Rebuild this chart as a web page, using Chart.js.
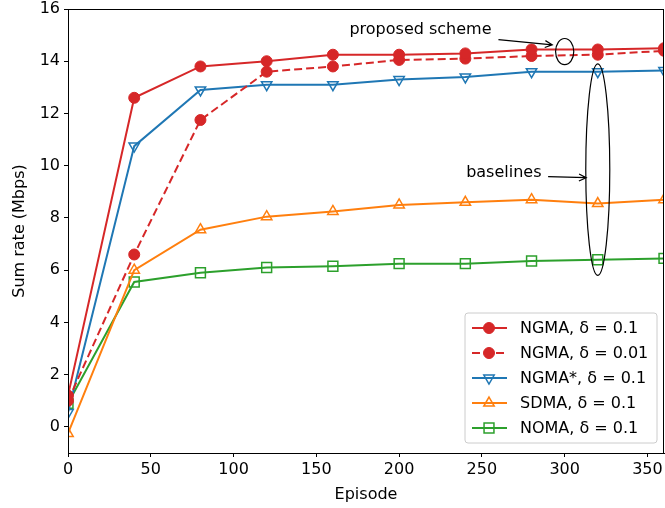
<!DOCTYPE html>
<html>
<head>
<meta charset="utf-8">
<script src="https://cdn.jsdelivr.net/npm/chart.js@4/dist/chart.umd.min.js"></script>
<style>
  html,body{margin:0;padding:0;background:#fff;}
  #wrap{width:665px;height:508px;}
</style>
</head>
<body>
<div id="wrap"><canvas id="c" width="665" height="508"></canvas></div>
<script>
// ---- data ----
const episodes   = [0, 40, 80, 120, 160, 200, 240, 280, 320, 360];
const ngma01     = [1.2, 12.6, 13.8, 14.0, 14.25, 14.25, 14.3, 14.45, 14.45, 14.5];
const ngma001    = [1.0, 6.6, 11.75, 13.6, 13.8, 14.05, 14.1, 14.2, 14.25, 14.4];
const ngmaStar   = [0.55, 10.75, 12.9, 13.1, 13.1, 13.3, 13.4, 13.6, 13.6, 13.65];
const sdma       = [-0.25, 6.0, 7.55, 8.05, 8.25, 8.5, 8.6, 8.7, 8.55, 8.7];
const noma       = [0.9, 5.55, 5.9, 6.1, 6.15, 6.25, 6.25, 6.35, 6.4, 6.45];
const seriesNames = ['NGMA, δ = 0.1', 'NGMA, δ = 0.01', 'NGMA*, δ = 0.1', 'SDMA, δ = 0.1', 'NOMA, δ = 0.1'];
const xTicks = [0, 50, 100, 150, 200, 250, 300, 350];
const yTicks = [0, 2, 4, 6, 8, 10, 12, 14, 16];

const FONT = 'DejaVu Sans';
const FS = 16;
const RED = '#d62728', BLUE = '#1f77b4', ORANGE = '#ff7f0e', GREEN = '#2ca02c';

function pts(ys){ return episodes.map((x,i)=>({x, y: ys[i]})); }

function mkSet(label, ys, color, style, opts){
  return Object.assign({
    label,
    data: pts(ys),
    borderColor: color,
    backgroundColor: color,
    borderWidth: 2,
    pointStyle: style,
    pointRadius: 6,
    pointBorderWidth: 1.5,
    pointBorderColor: color,
    pointBackgroundColor: 'rgba(0,0,0,0)',
    tension: 0,
    clip: 0
  }, opts || {});
}

const sets = [
  mkSet(seriesNames[0], ngma01, RED, 'circle', {pointBackgroundColor: RED, pointRadius: 5.5, pointBorderWidth: 1}),
  mkSet(seriesNames[1], ngma001, RED, 'circle', {pointBackgroundColor: RED, pointRadius: 5.5, pointBorderWidth: 1, borderDash: [8,4]}),
  mkSet(seriesNames[2], ngmaStar, BLUE, 'triangle', {pointRotation: 180}),
  mkSet(seriesNames[3], sdma, ORANGE, 'triangle'),
  mkSet(seriesNames[4], noma, GREEN, 'rect', {pointRadius: 7})
];
sets.forEach((s,i)=>{ s.order = i; });

// frame + annotations + legend
const decor = {
  id: 'decor',
  afterDatasetsDraw(chart){
    const {ctx, chartArea: a, scales: {x, y}} = chart;
    ctx.save();
    ctx.strokeStyle = '#000';
    ctx.lineWidth = 1;
    ctx.strokeRect(a.left + 0.5, a.top + 0.5, a.right - a.left - 1, a.bottom - a.top);

    // annotations, placed in data coords
    ctx.fillStyle = '#000';
    ctx.font = FS + 'px "' + FONT + '"';
    ctx.textBaseline = 'middle';
    ctx.textAlign = 'left';
    ctx.fillText('proposed scheme', x.getPixelForValue(170), y.getPixelForValue(15.2));
    ctx.fillText('baselines', x.getPixelForValue(240.5), y.getPixelForValue(9.72));

    function arrow(x0, y0, x1, y1){
      const px0 = x.getPixelForValue(x0), py0 = y.getPixelForValue(y0);
      const px1 = x.getPixelForValue(x1), py1 = y.getPixelForValue(y1);
      ctx.beginPath();
      ctx.moveTo(px0, py0); ctx.lineTo(px1, py1);
      const ang = Math.atan2(py1 - py0, px1 - px0), h = 8, w = 0.45;
      ctx.moveTo(px1 - h*Math.cos(ang - w), py1 - h*Math.sin(ang - w));
      ctx.lineTo(px1, py1);
      ctx.lineTo(px1 - h*Math.cos(ang + w), py1 - h*Math.sin(ang + w));
      ctx.stroke();
    }
    ctx.lineWidth = 1.2;
    arrow(260, 14.83, 292.5, 14.63);
    arrow(290, 9.58, 313, 9.54);

    function ellipse(cx, cy, wx, hy){
      const px = x.getPixelForValue(cx), py = y.getPixelForValue(cy);
      const rx = Math.abs(x.getPixelForValue(cx + wx/2) - px);
      const ry = Math.abs(y.getPixelForValue(cy + hy/2) - py);
      ctx.beginPath();
      ctx.ellipse(px, py, rx, ry, 0, 0, Math.PI*2);
      ctx.stroke();
    }
    ellipse(300, 14.37, 11, 1.0);
    ellipse(320, 9.85, 14.5, 8.1);

    // legend
    const lx = 465, ly = 313, lw = 192, lh = 130;
    ctx.beginPath();
    ctx.roundRect(lx, ly, lw, lh, 3);
    ctx.fillStyle = 'rgba(255,255,255,0.85)';
    ctx.fill();
    ctx.strokeStyle = '#cccccc';
    ctx.lineWidth = 1;
    ctx.stroke();
    chart.data.datasets.forEach((ds, i)=>{
      const ry = ly + 15 + i*25;
      ctx.save();
      ctx.strokeStyle = ds.borderColor;
      ctx.lineWidth = ds.borderWidth;
      ctx.setLineDash(ds.borderDash || []);
      ctx.beginPath();
      ctx.moveTo(lx + 7, ry); ctx.lineTo(lx + 42, ry);
      ctx.stroke();
      ctx.restore();
      ctx.save();
      ctx.fillStyle = ds.pointBackgroundColor;
      ctx.strokeStyle = ds.pointBorderColor;
      ctx.lineWidth = ds.pointBorderWidth;
      Chart.helpers.drawPoint(ctx, {
        pointStyle: ds.pointStyle, rotation: ds.pointRotation || 0,
        radius: ds.pointRadius, borderWidth: ds.pointBorderWidth
      }, lx + 24, ry);
      ctx.restore();
      ctx.fillStyle = '#000';
      ctx.font = FS + 'px "' + FONT + '"';
      ctx.textAlign = 'left';
      ctx.textBaseline = 'middle';
      ctx.fillText(ds.label, lx + 55, ry + 1);
    });
    ctx.restore();
  }
};

new Chart(document.getElementById('c'), {
  type: 'line',
  data: { datasets: sets },
  options: {
    responsive: false,
    animation: false,
    layout: { autoPadding: false, padding: { top: 9, right: 1, left: 0, bottom: 0 } },
    plugins: { legend: { display: false }, tooltip: { enabled: false } },
    scales: {
      x: {
        type: 'linear', min: 0, max: 360,
        afterBuildTicks(s){ s.ticks = xTicks.map(v=>({value: v})); },
        afterFit(s){ s.height = 55; s.paddingLeft = 0; s.paddingRight = 0; },
        grid: { drawOnChartArea: false, drawTicks: true, tickLength: 4, color: '#000' },
        border: { display: true, color: '#000', width: 1 },
        ticks: { color: '#000', font: { family: FONT, size: FS }, padding: 3, maxRotation: 0 },
        title: { display: true, text: 'Episode', color: '#000', font: { family: FONT, size: FS }, padding: { top: 0, bottom: 4 } }
      },
      y: {
        type: 'linear', min: -1, max: 16,
        afterBuildTicks(s){ s.ticks = yTicks.map(v=>({value: v})); },
        afterFit(s){ s.width = 68; s.paddingTop = 0; s.paddingBottom = 0; },
        grid: { drawOnChartArea: false, drawTicks: true, tickLength: 4, color: '#000' },
        border: { display: true, color: '#000', width: 1 },
        ticks: { color: '#000', font: { family: FONT, size: FS }, padding: 4 },
        title: { display: true, text: 'Sum rate (Mbps)', color: '#000', font: { family: FONT, size: FS }, padding: { top: 10, bottom: 0 } }
      }
    }
  },
  plugins: [decor]
});
</script>
</body>
</html>
